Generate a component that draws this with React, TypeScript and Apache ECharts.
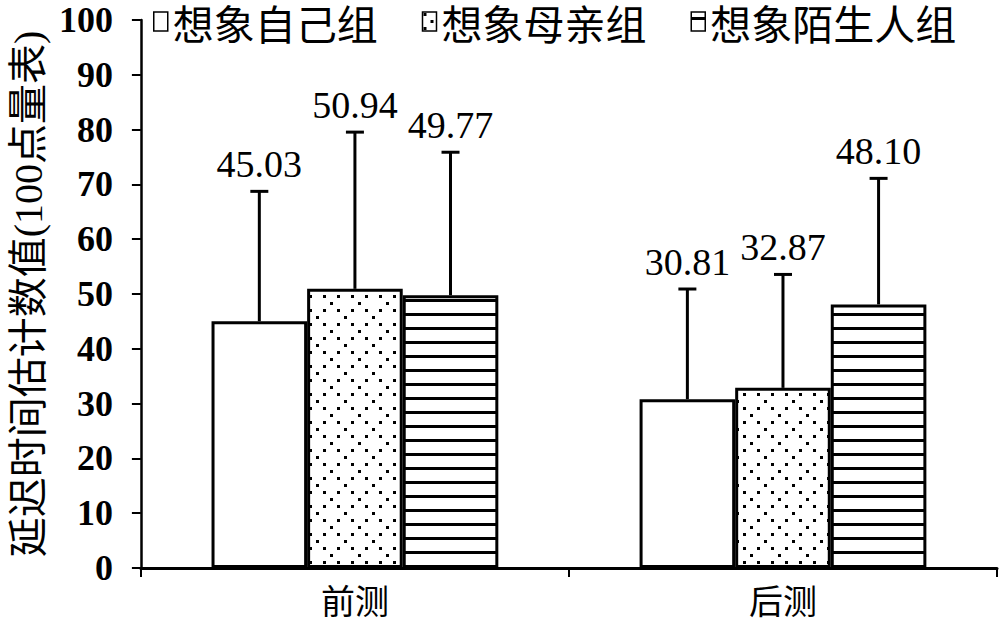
import React, { useEffect, useRef } from "react";
import * as echarts from "echarts";

const categories = ["前测", "后测"];
const seriesNames = ["想象自己组", "想象母亲组", "想象陌生人组"];
const selfMeans = [45.03, 30.81];
const motherMeans = [50.94, 32.87];
const strangerMeans = [49.77, 48.1];
const selfSD = [23.7, 20.1];
const motherSD = [28.6, 20.7];
const strangerSD = [26.1, 23.0];
const yMin = 0;
const yMax = 100;
const yInterval = 10;
const yAxisName = "延迟时间估计数值(100点量表)";

const SERIF = "Liberation Serif";
const CJK = "Noto Sans CJK SC";

function makeDots(): HTMLCanvasElement {
  const c = document.createElement("canvas");
  c.width = 28;
  c.height = 28;
  const g = c.getContext("2d")!;
  g.fillStyle = "#fff";
  g.fillRect(0, 0, 28, 28);
  g.fillStyle = "#000";
  const pts = [
    [1, 1], [15, 1],
    [8, 8],
    [1, 15], [15, 15],
    [22, 22],
  ];
  pts.forEach(([x, y]) => g.fillRect(x, y, 3, 3));
  return c;
}

function makeStripes(): HTMLCanvasElement {
  const c = document.createElement("canvas");
  c.width = 14;
  c.height = 14;
  const g = c.getContext("2d")!;
  g.fillStyle = "#fff";
  g.fillRect(0, 0, 14, 14);
  g.fillStyle = "#000";
  g.fillRect(0, 5, 14, 3);
  return c;
}

export default function App() {
  const ref = useRef<HTMLDivElement>(null);
  useEffect(() => {
    if (!ref.current) return;
    const chart = echarts.init(ref.current, undefined, { renderer: "svg" });
    const dots = makeDots();
    const stripes = makeStripes();
    const fills: any[] = [
      "#ffffff",
      { image: dots, repeat: "repeat" },
      { image: stripes, repeat: "repeat" },
    ];
    const means = [selfMeans, motherMeans, strangerMeans];
    const sds = [selfSD, motherSD, strangerSD];
    const catGap = 0.33;

    const barSeries = seriesNames.map((name, i) => ({
      name,
      type: "bar",
      data: means[i],
      barGap: "0%",
      barCategoryGap: "33%",
      itemStyle: { color: fills[i], borderColor: "#000", borderWidth: 3 },
      emphasis: { disabled: true },
      z: 2,
    }));

    const errSeries = seriesNames.map((name, gi) => ({
      name: name + "_err",
      type: "custom",
      coordinateSystem: "cartesian2d",
      encode: { x: 0, y: 1 },
      z: 5,
      data: categories.map((_, ci) => [ci, means[gi][ci], sds[gi][ci]]),
      renderItem: (params: any, api: any) => {
        const cat = api.value(0);
        const mean = api.value(1);
        const sd = api.value(2);
        const base = api.coord([cat, mean]);
        const top = api.coord([cat, mean + sd]);
        const catW = api.size([1, 0])[0];
        const bw = (catW * (1 - catGap)) / 3;
        const x = base[0] + (gi - 1) * bw;
        return {
          type: "group",
          children: [
            {
              type: "line",
              shape: { x1: x, y1: base[1], x2: x, y2: top[1] },
              style: { stroke: "#000", lineWidth: 3 },
            },
            {
              type: "line",
              shape: { x1: x - 9, y1: top[1], x2: x + 9, y2: top[1] },
              style: { stroke: "#000", lineWidth: 3 },
            },
            {
              type: "text",
              x: x,
              y: top[1] - 8,
              style: {
                text: mean.toFixed(2),
                textAlign: "center",
                textVerticalAlign: "bottom",
                fontSize: 38,
                fontFamily: SERIF,
                fill: "#000",
              },
            },
          ],
        };
      },
    }));

    chart.setOption({
      animation: false,
      backgroundColor: "#fff",
      grid: { left: 137, right: 3, top: 20, bottom: 58, containLabel: false },
      legend: {
        left: 153,
        top: 1,
        padding: 0,
        itemWidth: 14,
        itemHeight: 19,
        itemGap: 44,
        icon: "rect",
        selectedMode: false,
        data: seriesNames.map((n) => ({
          name: n,
          itemStyle: { borderWidth: 1.5, borderColor: "#000" },
        })),
        textStyle: {
          fontSize: 41,
          lineHeight: 41,
          fontFamily: CJK,
          color: "#000",
        },
      },
      xAxis: {
        type: "category",
        data: categories,
        axisLine: { lineStyle: { color: "#000", width: 3 } },
        axisTick: { show: true, length: 9, lineStyle: { color: "#000", width: 2 } },
        axisLabel: {
          margin: 14,
          fontSize: 34,
          fontFamily: CJK,
          color: "#000",
        },
      },
      yAxis: {
        type: "value",
        min: yMin,
        max: yMax,
        interval: yInterval,
        name: yAxisName,
        nameLocation: "middle",
        nameRotate: 90,
        nameGap: 92,
        nameTextStyle: {
          fontSize: 40,
          fontFamily: "Liberation Serif, Noto Sans CJK SC",
          color: "#000",
        },
        axisLine: { show: true, lineStyle: { color: "#000", width: 2.5 } },
        axisTick: { show: true, length: 9, lineStyle: { color: "#000", width: 2 } },
        splitLine: { show: false },
        axisLabel: {
          margin: 28,
          fontSize: 36,
          fontWeight: "bold",
          fontFamily: SERIF,
          color: "#000",
        },
      },
      series: [...barSeries, ...errSeries],
    });
    return () => chart.dispose();
  }, []);
  return (
    <div
      ref={ref}
      style={{ position: "fixed", left: 0, top: 0, width: 1000, height: 626, background: "#fff" }}
    />
  );
}
